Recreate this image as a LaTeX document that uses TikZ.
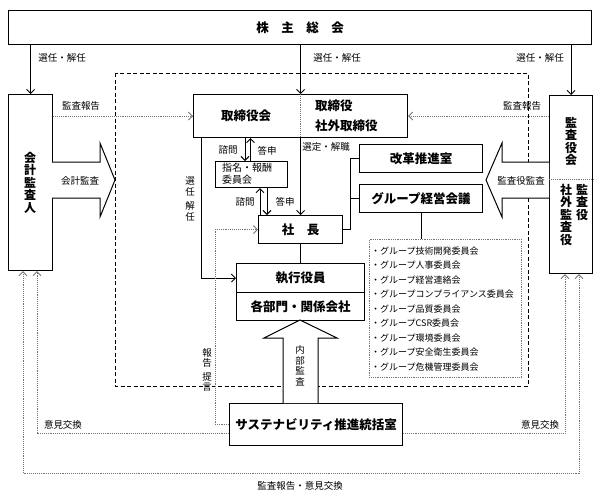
\documentclass[tikz,border=0pt]{standalone}
\usepackage{fontspec}
\setmainfont{Noto Sans CJK JP}
\usetikzlibrary{arrows.meta,calc}
\begin{document}
\begin{tikzpicture}[x=1pt,y=-1pt,
  >={Straight Barb[length=4pt,width=8pt]},
  box/.style={draw,line width=1.1pt,fill=white,inner sep=0pt,anchor=north west,font=\fontsize{12.5}{14}\selectfont\bfseries},
  btext/.style={inner sep=0pt,font=\fontsize{12.5}{14}\selectfont\bfseries},
  lbl/.style={inner sep=0pt,font=\fontsize{9.5}{11}\selectfont},
  vt/.style={inner sep=0pt,align=center,anchor=north,font=\fontsize{12}{12.5}\selectfont\bfseries},
  vsmall/.style={inner sep=0pt,align=center,font=\fontsize{9.5}{10.5}\selectfont},
  link/.style={line width=0.9pt},
  dotlink/.style={line width=0.9pt,densely dotted,black!55},
  big/.style={draw,line width=1pt,fill=white,line join=miter},
  item/.style={inner sep=0pt,anchor=west,font=\fontsize{9}{10}\selectfont}
]
\useasboundingbox (0,0) rectangle (598,499);

% helper coordinates
\coordinate (xq1) at (245,0);
\coordinate (xa1) at (250.5,0);
\coordinate (xa2) at (260,0);
\coordinate (xq2) at (267,0);
\coordinate (xs) at (201,0);
\coordinate (xb) at (350,0);
\coordinate (xh) at (215,0);
\coordinate (xi) at (37,0);
\coordinate (xo) at (23,0);
\coordinate (xir) at (565,0);
\coordinate (xor) at (579,0);
\coordinate (yi) at (0,433);
\coordinate (yo) at (0,473);
\coordinate (kdiv) at (0,179);

% dashed frame
\draw[line width=1pt,dash pattern=on 4pt off 2.5pt] (115,73) rectangle (528,386);

% top box
\node[box,minimum width=583,minimum height=34] (kabunushi) at (8,10) {株\hspace{1em}主\hspace{1em}総\hspace{1em}会};

% side boxes
\node[box,minimum width=44,minimum height=176] (kaikei) at (8,94) {};
\node[vt] (kaikeit) at (30,152) {会\\計\\監\\査\\人};
\node[box,minimum width=43,minimum height=178] (kansa) at (549,95) {};
\draw[dotlink,line width=0.7pt] (kansa.west |- kdiv) -- (kansa.east |- kdiv);
\node[vt] (kansat1) at (571,117) {監\\査\\役\\会};
\node[vt] (kansat2) at (582,184) {監\\査\\役};
\node[vt] (kansat3) at (566,184) {社\\外\\監\\査\\役};

% board
\node[box,minimum width=214,minimum height=43] (tori) at (193,94) {};
\draw[dotlink,line width=0.7pt] (tori.north) -- (tori.south);
\node[btext] (torit1) at (246,116) {取締役会};
\node[btext,anchor=west,align=left,font=\fontsize{12.5}{20}\selectfont\bfseries] (torit2) at (315,116) {取締役\\社外取締役};

% committee
\node[box,minimum width=72,minimum height=26] (shimei) at (215,161) {};
\node[inner sep=0pt,anchor=west,align=left,font=\fontsize{10}{12}\selectfont] (shimeit) at (222,174) {指名・報酬\\委員会};

% president
\node[box,minimum width=84,minimum height=28] (shacho) at (258,215) {社\hspace{1em}長};

% executives
\node[box,minimum width=128,minimum height=29] (shikko) at (236,263) {執行役員};
\node[box,minimum width=128,minimum height=28] (kakubu) at (236,292) {各部門・関係会社};

% right boxes
\node[box,minimum width=123,minimum height=28] (kaikaku) at (359,144) {改革推進室};
\node[box,minimum width=123,minimum height=28] (group) at (359,184) {グループ経営会議};

% list
\node[draw,densely dotted,black!55,line width=0.8pt,minimum width=152,minimum height=138,anchor=north west,inner sep=0pt] (list) at (369,239) {};
\foreach \t [count=\i] in {・グループ技術開発委員会,・グループ人事委員会,・グループ経営連絡会,・グループコンプライアンス委員会,・グループ品質委員会,・グループCSR委員会,・グループ環境委員会,・グループ安全衛生委員会,・グループ危機管理委員会}
  \node[item] (item\i) at (371,{251+14.5*(\i-1)}) {\t};

% sustainability
\node[box,minimum width=173,minimum height=42] (sus) at (229,403) {サステナビリティ推進統括室};

% appointment arrows from top
\draw[link,->] (kabunushi.south -| kaikei.north) -- (kaikei.north);
\draw[link,->] (kabunushi.south -| tori.north) -- (tori.north);
\draw[link,->] (kabunushi.south -| kansa.north) -- (kansa.north);
\node[lbl] (l1) at (62,58) {選任・解任};
\node[lbl] (l2) at (337,58) {選任・解任};
\node[lbl] (l3) at (540,58) {選任・解任};

% audit reports to board
\draw[dotlink,->] (kaikei.east |- tori.west) -- (tori.west);
\draw[dotlink,->] (kansa.west |- tori.east) -- (tori.east);
\node[lbl] (l4) at (81,106) {監査報告};
\node[lbl] (l5) at (522,106) {監査報告};

% consultation arrows
\draw[link,->] (tori.south -| xq1) -- (shimei.north -| xq1);
\draw[link,->] (shimei.north -| xa1) -- (tori.south -| xa1);
\draw[link,->] (shacho.north -| xa2) -- (shimei.south -| xa2);
\draw[link,->] (shimei.south -| xq2) -- (shacho.north -| xq2);
\node[lbl] (l6) at (228,150) {諮問};
\node[lbl] (l7) at (267,151) {答申};
\node[lbl] (l8) at (245,202) {諮問};
\node[lbl] (l9) at (285,202) {答申};

% selection of president
\draw[link,->] (tori.south) -- (shacho.north);
\node[lbl] (l10) at (326,147) {選定・解職};

% appointment of executives
\draw[link,->] (tori.south -| xs) |- (shikko.west);
\node[vsmall] (l11) at (190,199) {選\\任\\[4pt]解\\任};

% president to executives
\draw[link] (shacho.south) -- (shikko.north);

% bracket to right boxes
\draw[link] (shacho.east) -| (xb |- kaikaku.west) -- (kaikaku.west);
\draw[link] (xb |- group.west) -- (group.west);
\draw[link] (group.south) -- (group.south |- list.north);

% big arrows
\draw[big] (52,162) -- (100,162) -- (100,143) -- (115,180) -- (100,217) -- (100,198) -- (52,198);
\node[lbl] (l12) at (80,181) {会計監査};
\draw[big] (549,162) -- (502,162) -- (502,143) -- (486,180) -- (502,217) -- (502,198) -- (549,198);
\node[lbl] (l13) at (521,181) {監査役監査};
\draw[big] (283,403) -- (283,338) -- (264,338) -- (300,320) -- (337,338) -- (318,338) -- (318,403);
\node[vsmall] (l14) at (300,366) {内\\部\\監\\査};

% report / proposal
\draw[dotlink,->] (sus.west) -| (xh |- shacho.west) -- (shacho.west);
\node[vsmall] (l15) at (207,370) {報\\告\\[3pt]提\\言};

% opinion exchange loops
\draw[dotlink,->] (sus.west |- yi) -| (xi |- kaikei.south);
\draw[dotlink,->] (sus.east |- yi) -| (xir |- kansa.south);
\draw[dotlink,<->] (xo |- kaikei.south) -- (xo |- yo) -- (xor |- yo) -- (xor |- kansa.south);
\node[lbl] (l16) at (63,425) {意見交換};
\node[lbl] (l17) at (540,425) {意見交換};
\node[lbl] (l18) at (300,486) {監査報告・意見交換};
\end{tikzpicture}
\end{document}
